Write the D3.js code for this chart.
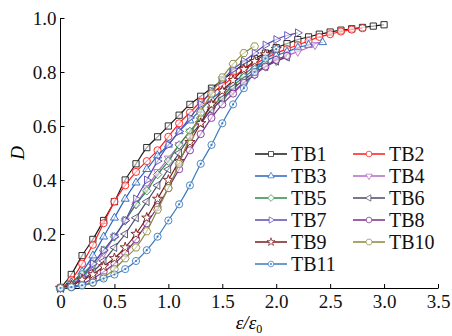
<!DOCTYPE html>
<html>
<head>
<meta charset="utf-8">
<script src="https://cdn.jsdelivr.net/npm/d3@7"></script>
</head>
<body style="margin:0">
<script>
// series values: [eps/eps0, D]
const tb1 = [[0,0],[0.1,0.05],[0.2,0.12],[0.3,0.18],[0.4,0.25],[0.5,0.32],[0.6,0.4],[0.7,0.46],[0.8,0.52],[0.9,0.56],[1.0,0.6],[1.1,0.64],[1.2,0.68],[1.3,0.71],[1.4,0.74],[1.5,0.77],[1.6,0.8],[1.7,0.83],[1.8,0.85],[1.9,0.87],[2.0,0.89],[2.1,0.905],[2.2,0.92],[2.3,0.93],[2.4,0.94],[2.5,0.948],[2.6,0.955],[2.7,0.96],[2.8,0.965],[2.9,0.97],[3.0,0.975]];
const tb2 = [[0,0],[0.1,0.03],[0.2,0.09],[0.3,0.16],[0.4,0.24],[0.5,0.32],[0.6,0.38],[0.7,0.43],[0.8,0.47],[0.9,0.51],[1.0,0.56],[1.1,0.61],[1.2,0.65],[1.3,0.69],[1.4,0.72],[1.5,0.75],[1.6,0.78],[1.7,0.81],[1.8,0.83],[1.9,0.85],[2.0,0.87],[2.1,0.885],[2.2,0.9],[2.3,0.915],[2.4,0.93],[2.5,0.94],[2.6,0.95],[2.7,0.957],[2.8,0.962]];
const tb3 = [[0,0],[0.1,0.02],[0.2,0.06],[0.3,0.12],[0.4,0.19],[0.5,0.26],[0.6,0.33],[0.7,0.39],[0.8,0.44],[0.9,0.49],[1.0,0.53],[1.1,0.58],[1.2,0.62],[1.3,0.66],[1.4,0.7],[1.5,0.73],[1.6,0.76],[1.7,0.79],[1.8,0.82],[1.9,0.84],[2.0,0.86],[2.1,0.875],[2.2,0.89],[2.3,0.9],[2.43,0.91]];
const tb4 = [[0,0],[0.1,0.015],[0.2,0.04],[0.3,0.08],[0.4,0.13],[0.5,0.19],[0.6,0.25],[0.7,0.31],[0.8,0.37],[0.9,0.43],[1.0,0.48],[1.1,0.53],[1.2,0.58],[1.3,0.62],[1.4,0.66],[1.5,0.7],[1.6,0.73],[1.7,0.76],[1.8,0.79],[1.9,0.82],[2.0,0.84],[2.1,0.86],[2.2,0.875],[2.36,0.9]];
const tb5 = [[0,0],[0.1,0.02],[0.2,0.05],[0.3,0.09],[0.4,0.14],[0.5,0.19],[0.6,0.25],[0.7,0.31],[0.8,0.36],[0.9,0.42],[1.0,0.47],[1.1,0.53],[1.2,0.58],[1.3,0.63],[1.4,0.67],[1.5,0.71],[1.6,0.75],[1.7,0.78],[1.8,0.81],[1.9,0.83]];
const tb6 = [[0,0],[0.1,0.01],[0.2,0.03],[0.3,0.06],[0.4,0.1],[0.5,0.15],[0.6,0.2],[0.7,0.26],[0.8,0.32],[0.9,0.38],[1.0,0.44],[1.1,0.5],[1.2,0.56],[1.3,0.61],[1.4,0.66],[1.5,0.7],[1.6,0.74],[1.7,0.77],[1.8,0.8],[1.9,0.82],[2.0,0.84],[2.1,0.855]];
const tb7 = [[0,0],[0.1,0.01],[0.2,0.04],[0.3,0.09],[0.4,0.14],[0.5,0.19],[0.6,0.25],[0.7,0.33],[0.8,0.4],[0.9,0.47],[1.0,0.53],[1.1,0.58],[1.2,0.63],[1.3,0.68],[1.4,0.73],[1.5,0.77],[1.6,0.81],[1.7,0.84],[1.8,0.87],[1.9,0.9],[2.0,0.92],[2.1,0.935],[2.2,0.945]];
const tb8 = [[0,0],[0.1,0.005],[0.2,0.015],[0.3,0.035],[0.4,0.06],[0.5,0.09],[0.6,0.13],[0.7,0.18],[0.8,0.24],[0.9,0.3],[1.0,0.37],[1.1,0.44],[1.2,0.51],[1.3,0.57],[1.4,0.63],[1.5,0.68],[1.6,0.72],[1.7,0.76],[1.8,0.79],[1.9,0.82],[2.0,0.845],[2.1,0.86]];
const tb9 = [[0,0],[0.1,0.01],[0.2,0.03],[0.3,0.05],[0.4,0.08],[0.5,0.11],[0.6,0.15],[0.7,0.2],[0.8,0.26],[0.9,0.33],[1.0,0.4],[1.1,0.47],[1.2,0.54],[1.3,0.61],[1.4,0.68],[1.5,0.73],[1.6,0.77],[1.7,0.81],[1.8,0.84],[1.9,0.865],[2.0,0.885]];
const tb10 = [[0,0],[0.1,0.003],[0.2,0.01],[0.3,0.02],[0.4,0.04],[0.5,0.07],[0.6,0.11],[0.7,0.15],[0.8,0.21],[0.9,0.29],[1.0,0.37],[1.1,0.46],[1.2,0.56],[1.3,0.65],[1.4,0.72],[1.5,0.78],[1.6,0.83],[1.7,0.87],[1.8,0.895]];
const tb11 = [[0,0],[0.1,0.003],[0.2,0.01],[0.3,0.02],[0.4,0.035],[0.5,0.05],[0.6,0.07],[0.7,0.1],[0.8,0.14],[0.9,0.19],[1.0,0.25],[1.1,0.31],[1.2,0.38],[1.3,0.46],[1.4,0.53],[1.5,0.61],[1.6,0.68],[1.7,0.74],[1.8,0.8],[1.9,0.85],[2.0,0.885]];

const names = ["TB1","TB2","TB3","TB4","TB5","TB6","TB7","TB8","TB9","TB10","TB11"];
const values = [tb1, tb2, tb3, tb4, tb5, tb6, tb7, tb8, tb9, tb10, tb11];
const colors = ["#1a1a1a","#ff1a1a","#2a66c0","#b46ac4","#2e8b4a","#4a4a68","#5a4db4","#7d2d8e","#7a1c1c","#8a8a3a","#3a7bbf"];
const markers = ["square","circle","triUp","triDown","diamond","triLeft","triRight","circle","star","hexagon","dotCircle"];

const xTicks = [0, 0.5, 1, 1.5, 2, 2.5, 3, 3.5];
const xTickLabels = ["0","0.5","1.0","1.5","2.0","2.5","3.0","3.5"];
const yTicks = [0.2, 0.4, 0.6, 0.8, 1.0];
const yTickLabels = ["0.2","0.4","0.6","0.8","1.0"];

const FONT = '"Times New Roman", "Liberation Serif", Times, serif';

let width = 452, height = 336,
  margin = ({ top: 18, right: 14, bottom: 48, left: 60.5 });

const svg = d3.select("body").append("svg")
  .attr("width", width).attr("height", height)
  .style("display", "block")
  .style("font-family", FONT);

let x = d3.scaleLinear().domain([0, 3.5]).range([margin.left, width - margin.right]);
let y = d3.scaleLinear().domain([0, 1]).range([height - margin.bottom, margin.top]);

// put the serif face on a text selection
function serif(sel, size) {
  return sel.style("font-family", FONT).style("font-size", size + "px");
}

// polygon marker path, r = radius, a0 = start angle in degrees
function poly(n, r, a0) {
  let pts = [];
  for (let i = 0; i < n; i++) {
    let a = (a0 + i * 360 / n) * Math.PI / 180;
    pts.push([r * Math.cos(a), r * Math.sin(a)]);
  }
  return "M" + pts.map(p => p[0].toFixed(2) + "," + p[1].toFixed(2)).join("L") + "Z";
}

function markerPath(type) {
  switch (type) {
    case "square": return poly(4, 4.4, 45);
    case "triUp": return poly(3, 4.6, -90);
    case "triDown": return poly(3, 4.6, 90);
    case "triLeft": return poly(3, 4.6, 180);
    case "triRight": return poly(3, 4.6, 0);
    case "diamond": return poly(4, 4.2, 0);
    case "hexagon": return poly(6, 4.0, 0);
    case "star": return d3.symbol(d3.symbolStar, 32)();
    default: return d3.symbol(d3.symbolCircle, 40)();
  }
}

function drawMarker(g, type, color) {
  g.append("path")
    .attr("d", markerPath(type))
    .attr("fill", "#fff")
    .attr("fill-opacity", type === "star" ? 1 : 0.6)
    .attr("stroke", color)
    .attr("stroke-width", 0.9);
  if (type === "dotCircle") {
    g.append("circle").attr("r", 1.1).attr("fill", color);
  }
}

// axes
let xAxis = svg.append("g")
  .attr("transform", `translate(0,${y(0)})`)
  .call(d3.axisBottom(x)
    .tickValues(xTicks)
    .tickFormat((d, i) => xTickLabels[i])
    .tickSizeInner(-4)
    .tickSizeOuter(0)
    .tickPadding(6));
xAxis.attr("font-family", null).attr("font-size", null);
serif(xAxis.selectAll("text"), 19).attr("fill", "#111").attr("dy", "0.72em");

let yAxis = svg.append("g")
  .attr("transform", `translate(${x(0)},0)`)
  .call(d3.axisLeft(y)
    .tickValues(yTicks)
    .tickFormat((d, i) => yTickLabels[i])
    .tickSizeInner(-4)
    .tickSizeOuter(0)
    .tickPadding(4));
yAxis.attr("font-family", null).attr("font-size", null);
yAxis.select(".domain").attr("d", `M0,${y(0)}V${y(1)}`);
serif(yAxis.selectAll("text"), 19).attr("fill", "#111");

// axis titles
serif(svg.append("text"), 19)
  .attr("transform", `translate(24,${y(0.5)}) rotate(-90)`)
  .attr("text-anchor", "middle")
  .style("font-style", "italic")
  .text("D");

let xl = serif(svg.append("text"), 19)
  .attr("x", 249)
  .attr("y", 329)
  .attr("text-anchor", "middle")
  .style("font-style", "italic");
xl.append("tspan").text("ε/ε");
xl.append("tspan").attr("dy", 4).style("font-size", "12px").style("font-style", "normal").text("0");

// curves
let line = d3.line()
  .x(d => x(d[0]))
  .y(d => y(d[1]))
  .curve(d3.curveMonotoneX);

values.forEach((data, i) => {
  let g = svg.append("g").attr("class", "series");
  g.append("path")
    .datum(data)
    .attr("fill", "none")
    .attr("stroke", colors[i])
    .attr("stroke-width", 1.2)
    .attr("d", line);
  g.selectAll("g.pt")
    .data(data)
    .join("g")
    .attr("class", "pt")
    .attr("transform", d => `translate(${x(d[0])},${y(d[1])})`)
    .each(function () { drawMarker(d3.select(this), markers[i], colors[i]); });
});

// legend, two columns
const legend = svg.append("g");
names.forEach((name, i) => {
  let col = i % 2, row = Math.floor(i / 2);
  let lx = col === 0 ? 255 : 353;
  let ly = 154 + row * 22;
  let g = legend.append("g").attr("transform", `translate(${lx},${ly})`);
  g.append("line").attr("x1", 0).attr("x2", 32).attr("stroke", colors[i]).attr("stroke-width", 1.5);
  let m = g.append("g").attr("transform", "translate(16,0) scale(0.8)");
  drawMarker(m, markers[i], colors[i]);
  m.select("path").attr("fill-opacity", 1);
  serif(g.append("text"), 20)
    .attr("x", 36).attr("dy", "0.35em").attr("fill", "#111")
    .text(name);
});
</script>
</body>
</html>
